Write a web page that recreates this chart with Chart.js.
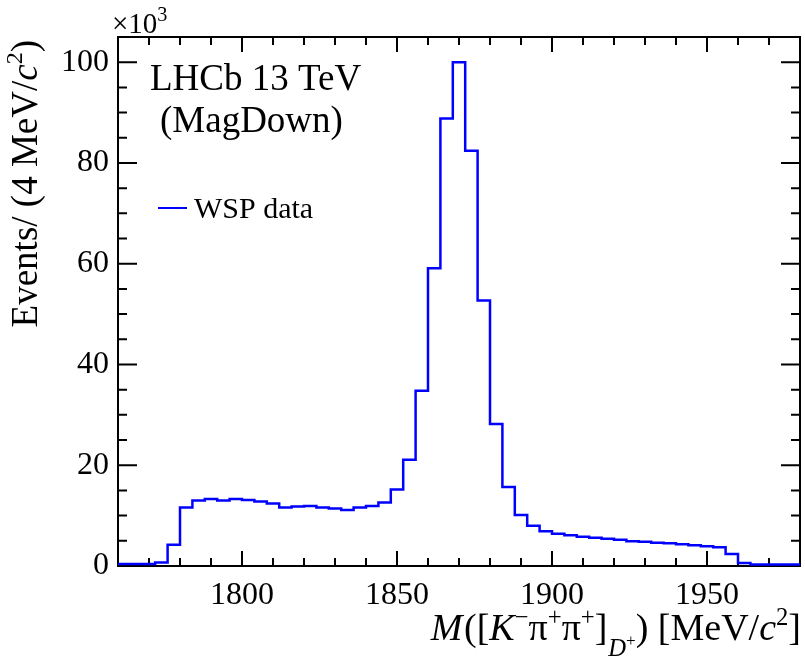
<!DOCTYPE html>
<html><head><meta charset="utf-8">
<script src="https://cdn.jsdelivr.net/npm/chart.js@4/dist/chart.umd.min.js"></script>
<style>html,body{margin:0;padding:0;background:#fff;}#wrap{width:805px;height:663px;}</style>
</head><body><div id="wrap"><canvas id="c" width="805" height="663"></canvas></div>
<script>
// Histogram bins (4 MeV/c^2 wide): lower edges, last upper edge
const binLowEdges = [1760,1764,1768,1772,1776,1780,1784,1788,1792,1796,
  1800,1804,1808,1812,1816,1820,1824,1828,1832,1836,
  1840,1844,1848,1852,1856,1860,1864,1868,1872,1876,
  1880,1884,1888,1892,1896,1900,1904,1908,1912,1916,
  1920,1924,1928,1932,1936,1940,1944,1948,1952,1956,
  1960,1964,1968,1972,1976];
const lastUpperEdge = 1980;
// WSP data, events per bin in units of 10^3
const wspCounts = [0.4,0.4,0.4,0.7,4.2,11.6,13.0,13.3,13.0,13.3,
  13.1,12.8,12.4,11.6,11.8,11.9,11.6,11.4,11.1,11.6,
  11.9,12.6,15.2,21.1,34.8,59.1,88.8,100.0,82.4,52.7,
  28.2,15.7,10.1,8.0,6.9,6.4,6.1,5.8,5.6,5.4,
  5.2,4.9,4.8,4.6,4.5,4.3,4.1,3.9,3.7,2.4,
  0.6,0.3,0.3,0.3,0.3];
const xTickLabels = [1800,1850,1900,1950];
const xMinorTicks = [1770,1780,1790,1800,1810,1820,1830,1840,1850,1860,1870,1880,1890,1900,1910,1920,1930,1940,1950,1960,1970];
const yTickLabels = [0,20,40,60,80,100];
const yMinorTicks = [5,10,15,20,25,30,35,40,45,50,55,60,65,70,75,80,85,90,95,100,105];

const FAM = '"Liberation Serif", "Times New Roman", serif';

const points = binLowEdges.map((x,i)=>({x:x, y:wspCounts[i]}));
points.push({x:lastUpperEdge, y:wspCounts[wspCounts.length-1]});

function drawRich(ctx, segs, x, y, align, base){
  const parts = segs.map(s=>{
    const size = base*(s.s||1);
    const font = (s.i?'italic ':'') + size.toFixed(1)+'px '+FAM;
    ctx.font = font;
    return {t:s.t, font:font, w:ctx.measureText(s.t).width + (s.gap||0)*base, dy:(s.dy||0)*base};
  });
  const total = parts.reduce((a,p)=>a+p.w,0);
  let cx = align==='right' ? x-total : x;
  ctx.textAlign='left'; ctx.textBaseline='alphabetic';
  for(const p of parts){
    ctx.font=p.font;
    ctx.fillText(p.t, cx, y+p.dy);
    cx += p.w;
  }
}

const framePlugin = {
  id:'frame',
  beforeDatasetsDraw(chart){
    const {ctx, chartArea:a, scales:{x, y}} = chart;
    ctx.save();
    ctx.strokeStyle='#000'; ctx.lineWidth=2;
    ctx.strokeRect(a.left, a.top, a.right-a.left, a.bottom-a.top);
    ctx.beginPath();
    for(const v of xMinorTicks){
      const px = x.getPixelForValue(v);
      const L = xTickLabels.includes(v)?15:8;
      ctx.moveTo(px,a.bottom); ctx.lineTo(px,a.bottom-L);
      ctx.moveTo(px,a.top); ctx.lineTo(px,a.top+L);
    }
    for(const v of yMinorTicks){
      const py = y.getPixelForValue(v);
      const L = yTickLabels.includes(v)?19:9;
      ctx.moveTo(a.left,py); ctx.lineTo(a.left+L,py);
      ctx.moveTo(a.right,py); ctx.lineTo(a.right-L,py);
    }
    ctx.stroke();
    ctx.restore();
  },
  afterDraw(chart){
    const {ctx} = chart;
    ctx.save();
    ctx.fillStyle='#000';
    // exponent label
    drawRich(ctx,[{t:'\u00d710'},{t:'3',s:0.7,dy:-0.42}], 112, 33, 'left', 29);
    // annotations
    ctx.font='37px '+FAM; ctx.textAlign='left'; ctx.textBaseline='alphabetic';
    ctx.fillText('LHCb 13 TeV', 150, 90);
    ctx.fillText('(MagDown)', 160, 132);
    // legend
    ctx.strokeStyle='#0000ff'; ctx.lineWidth=2;
    ctx.beginPath(); ctx.moveTo(158,208); ctx.lineTo(187,208); ctx.stroke();
    ctx.font='30px '+FAM;
    ctx.fillText('WSP data', 194, 218);
    // x title
    drawRich(ctx,[
      {t:'M',i:1,gap:0.04},{t:'(['},{t:'K',i:1},{t:'\u2212',s:0.65,dy:-0.4},
      {t:'\u03c0'},{t:'+',s:0.65,dy:-0.4},{t:'\u03c0'},{t:'+',s:0.65,dy:-0.4},
      {t:']',gap:0.02},{t:'D',i:1,s:0.65,dy:0.42},{t:'+',s:0.45,dy:0.16},
      {t:')'},{t:' [MeV/'},{t:'c',i:1},{t:'2',s:0.65,dy:-0.4},{t:']'}
    ], 801, 640, 'right', 38);
    // y title
    ctx.translate(37, 40);
    ctx.rotate(-Math.PI/2);
    drawRich(ctx,[{t:'Events/ (4 MeV/'},{t:'c',i:1},{t:'2',s:0.65,dy:-0.4},{t:')'}], 0, 0, 'right', 37);
    ctx.restore();
  }
};

new Chart(document.getElementById('c'), {
  type:'line',
  data:{datasets:[{label:'WSP data', data:points, stepped:true, borderColor:'#0000ff',
    borderWidth:2.5, pointRadius:0, fill:false, tension:0}]},
  options:{
    responsive:false, animation:false, devicePixelRatio:1,
    layout:{padding:{top:37,right:5,left:0,bottom:0}},
    plugins:{legend:{display:false}, tooltip:{enabled:false}, title:{display:false}},
    scales:{
      x:{type:'linear', min:1760, max:1980,
        afterBuildTicks:s=>{s.ticks = xTickLabels.map(v=>({value:v}));},
        afterFit:s=>{s.height=97;},
        grid:{display:false, drawTicks:false}, border:{display:false},
        ticks:{font:{family:FAM,size:32}, color:'#000', padding:10, maxRotation:0, autoSkip:false,
          callback:v=>String(v)}
      },
      y:{type:'linear', min:0, max:105,
        afterBuildTicks:s=>{s.ticks = yTickLabels.map(v=>({value:v}));},
        afterFit:s=>{s.width=118;},
        grid:{display:false, drawTicks:false}, border:{display:false},
        ticks:{font:{family:FAM,size:32}, color:'#000', padding:9, autoSkip:false,
          callback:v=>String(v)}
      }
    }
  },
  plugins:[framePlugin]
});
</script></body></html>
